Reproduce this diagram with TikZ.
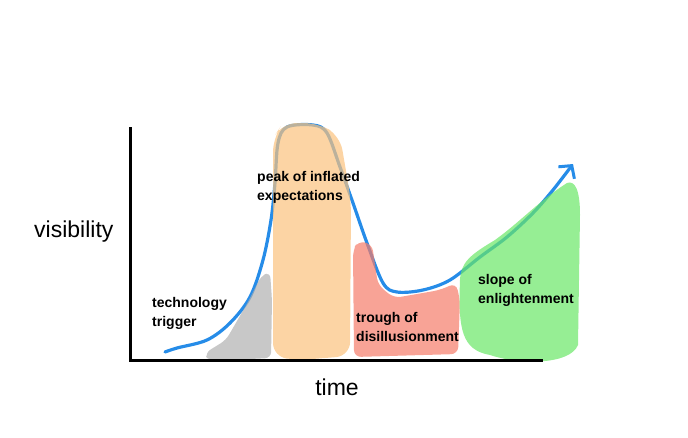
\documentclass[tikz,border=0pt]{standalone}
\usepackage{fontspec}
\setmainfont{Liberation Sans}
\usetikzlibrary{arrows.meta}
\definecolor{hypeblue}{RGB}{38,140,232}
\definecolor{blobgray}{RGB}{176,176,176}
\definecolor{bloborange}{RGB}{251,194,125}
\definecolor{blobred}{RGB}{245,124,105}
\definecolor{blobgreen}{RGB}{105,231,102}
\tikzset{
  blob/.style={fill opacity=0.7, draw=none},
  stage/.style={font=\bfseries\fontsize{14}{18.5}\selectfont, align=left, anchor=base west, inner sep=0pt},
  axislbl/.style={font=\fontsize{23}{26}\selectfont, inner sep=0pt}
}
\begin{document}
\begin{tikzpicture}[x=1pt,y=-1pt]
  \useasboundingbox (0,0) rectangle (688,437);
  \coordinate (o) at (130,360);
  \coordinate (ytop) at (130,127);
  \coordinate (xend) at (543,360);
  \coordinate (s) at (165,352);
  \coordinate (t) at (573,164);
  \draw[hypeblue, line width=3.2pt, line cap=round, line join=round,
        -{Straight Barb[length=9pt,width=20pt,line width=3pt]}]
    plot[smooth, tension=0.55] coordinates {(s) (177,348) (207,340) (230,323) (250,297)
      (263,260) (271,220) (275,183) (278,143) (287,127) (313,125) (327,133) (340,167)
      (353,203) (367,243) (383,283) (397,292) (423,290) (450,280) (480,257) (507,237)
      (533,213) (553,190) (t)};
  \fill[blob, blobgray, rounded corners=6pt] (205,353) -- (226,340) -- (248,302) -- (261,276)
    -- (270,272) -- (272,300) -- (271,358) -- (208,361) -- cycle;
  \fill[blob, bloborange, rounded corners=14pt] (273,138) -- (283,123) -- (318,123)
    -- (340,136) -- (351,200) -- (350,356) -- (300,360) -- (273,357) -- cycle;
  \fill[blob, blobred, rounded corners=7pt] (353,250) -- (358,241) -- (372,244) -- (378,285)
    -- (394,298) -- (440,290) -- (456,283) -- (460,300) -- (458,354) -- (354,357) -- cycle;
  \fill[blob, blobgreen] (460,280) .. controls (458,330) and (462,350) .. (490,355)
    .. controls (520,365) and (570,365) .. (578,345)
    -- (580,215) .. controls (580,190) and (575,180) .. (567,183)
    .. controls (540,200) and (520,222) .. (495,240)
    .. controls (470,255) and (461,262) .. (460,280) -- cycle;
  \draw[line width=3pt] (ytop) -- (o) -- (xend);
  \node[axislbl, anchor=base west] (vis) at (34,237) {visibility};
  \node[axislbl, anchor=base] (time) at (337,395) {time};
  \node[stage] (tt) at (152,326) {technology\\trigger};
  \node[stage] (pk) at (257,200) {peak of inflated\\expectations};
  \node[stage] (tr) at (356,341) {trough of\\disillusionment};
  \node[stage] (sl) at (478,303) {slope of\\enlightenment};
\end{tikzpicture}
\end{document}
